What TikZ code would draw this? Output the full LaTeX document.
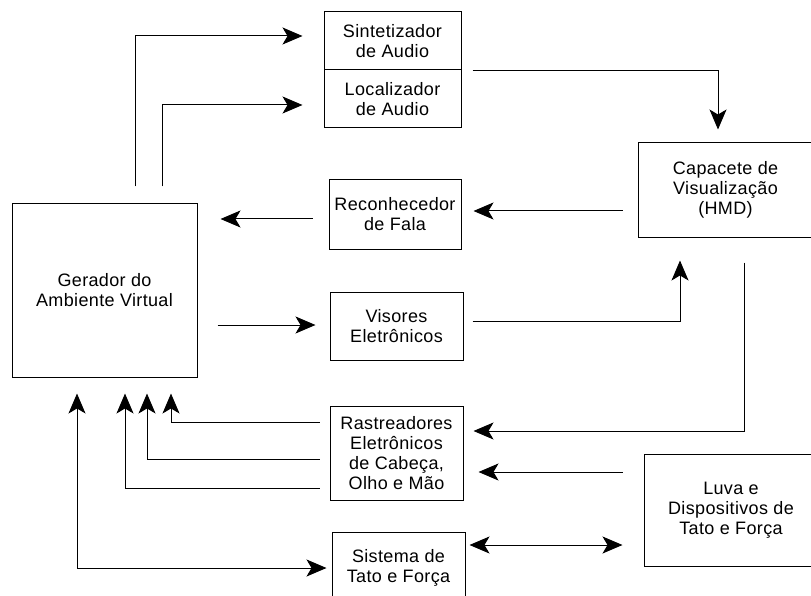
\documentclass[tikz,border=0pt]{standalone}
\usepackage{fontspec}
\setmainfont{Liberation Sans}[LetterSpace=2]
\usepackage{tikz}
\usetikzlibrary{arrows.meta}

\begin{document}
\begin{tikzpicture}[x=1pt,y=-1pt,line width=1pt,>={Stealth[length=20pt,width=17pt,inset=5pt]}]
    \tikzstyle{block}=[draw, rectangle, align=center, inner sep=2pt, font=\fontsize{18}{20}\selectfont]
    \tikzstyle{link}=[->]
    \tikzstyle{twoway}=[<->]

    \useasboundingbox (0,0) rectangle (811,596);
    \clip (0,0) rectangle (811,596);

    \node[block, minimum width=185, minimum height=173] (gerador) at (104.5,290.5) {Gerador do\\Ambiente Virtual};
    \node[block, minimum width=137, minimum height=58]  (sint)    at (392.5,41)    {Sintetizador\\de Audio};
    \node[block, minimum width=137, minimum height=58]  (loc)     at (392.5,99)    {Localizador\\de Audio};
    \node[block, minimum width=132, minimum height=69]  (recon)   at (395,214.5)   {Reconhecedor\\de Fala};
    \node[block, minimum width=133, minimum height=68]  (visores) at (396.5,326)   {Visores\\Eletrônicos};
    \node[block, minimum width=133, minimum height=94]  (rastre)  at (396.5,453)   {Rastreadores\\Eletrônicos\\de Cabeça,\\Olho e Mão};
    \node[block, minimum width=133, minimum height=72]  (sistema) at (398.5,568)   {Sistema de\\Tato e Força};
    \node[block, minimum width=175, minimum height=94]  (hmd)     at (725.5,190)   {Capacete de\\Visualização\\(HMD)};
    \node[block, minimum width=174, minimum height=112] (luva)    at (731,510)     {Luva e\\Dispositivos de\\Tato e Força};

    % audio
    \draw[link] ([xshift=30.5pt,yshift=17pt]gerador.north) |- ([xshift=-21pt,yshift=5pt]sint.west);
    \draw[link] ([xshift=57.5pt,yshift=17pt]gerador.north) |- ([xshift=-21pt,yshift=-6pt]loc.west);
    \draw[link] ([xshift=11pt,yshift=28pt]loc.east) -| ([xshift=-7.5pt,yshift=13pt]hmd.north);

    % fala e visores
    \draw[link] ([xshift=-15pt,yshift=-21pt]hmd.west) -- ([xshift=12pt,yshift=-21pt]recon.east |- hmd.west);
    \draw[link] ([xshift=-16pt,yshift=-4.5pt]recon.west) -- ([xshift=23pt,yshift=71.5pt]gerador.east);
    \draw[link] ([xshift=20pt,yshift=-34.5pt]gerador.east) -- ([xshift=-14pt,yshift=1pt]visores.west);
    \draw[link] ([xshift=9pt,yshift=5pt]visores.east) -| ([xshift=-45.5pt,yshift=-23pt]hmd.south);

    % rastreadores
    \draw[link] ([xshift=18.5pt,yshift=-25pt]hmd.south) |- ([xshift=10pt,yshift=22pt]rastre.east);
    \draw[link] ([xshift=-21pt,yshift=38pt]luva.west) -- ([xshift=15pt,yshift=-19pt]rastre.east);
    \draw[link] ([xshift=-10pt,yshift=31pt]rastre.west) -| ([xshift=66.5pt,yshift=-16pt]gerador.south);
    \draw[link] ([xshift=-10pt,yshift=-6pt]rastre.west) -| ([xshift=42.5pt,yshift=-16pt]gerador.south);
    \draw[link] ([xshift=-10pt,yshift=-35pt]rastre.west) -| ([xshift=20.5pt,yshift=-16pt]gerador.south);

    % tato e forca
    \draw[twoway] ([xshift=4pt,yshift=23pt]sistema.east) -- ([xshift=-21pt,yshift=-35pt]luva.west);
    \draw[twoway] ([xshift=-27.5pt,yshift=-16pt]gerador.south) |- ([xshift=-5pt]sistema.west);
\end{tikzpicture}
\end{document}
